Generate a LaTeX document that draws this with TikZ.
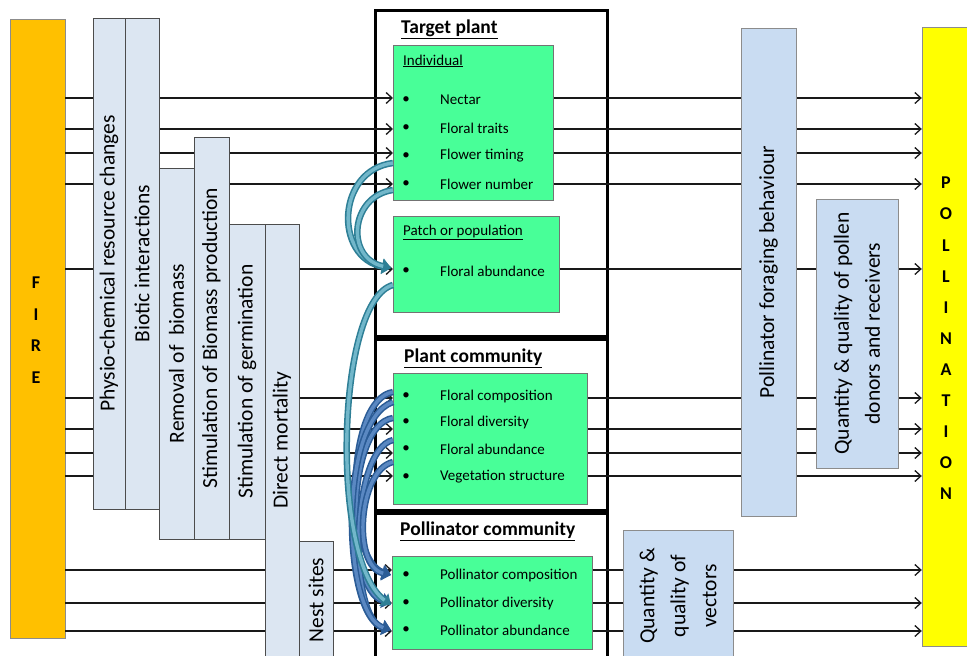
\documentclass[tikz,border=0pt]{standalone}
\usepackage{fontspec}
\setmainfont{Carlito}
\usetikzlibrary{arrows.meta}
\definecolor{fireC}{HTML}{FFC000}
\definecolor{pollC}{HTML}{FFFF00}
\definecolor{barL}{HTML}{DCE6F2}
\definecolor{barR}{HTML}{C9DCF2}
\definecolor{grn}{HTML}{48FF98}
\definecolor{tealD}{HTML}{2E7F96}
\definecolor{tealL}{HTML}{72B7CA}
\definecolor{bluD}{HTML}{2B5C96}
\definecolor{bluL}{HTML}{5A88C2}
\newcommand\bandarrow[3]{%
  \draw[#1, line width=6.5pt, -{Triangle[length=9pt,width=15pt]}] #3;
  \draw[#2, line width=3.4pt, shorten >=8pt] #3;}
\begin{document}
\begin{tikzpicture}[x=1pt,y=-1pt,
  bar/.style={draw=black!70, fill=barL, line width=0.8pt, inner sep=0pt},
  barr/.style={draw=black!45, fill=barR, line width=0.8pt, inner sep=0pt},
  vtext/.style={rotate=90, font=\fontsize{21.5}{31}\selectfont, align=center, inner sep=0pt},
  gbox/.style={draw=black!55, fill=grn, line width=0.8pt, inner sep=0pt, anchor=north west},
  outer/.style={draw=black, line width=3pt},
  item/.style={anchor=west, font=\fontsize{15}{18}\selectfont, inner sep=0pt},
  bul/.style={font=\fontsize{15}{18}\selectfont, inner sep=0pt},
  ttl/.style={anchor=west, font=\bfseries\fontsize{19.5}{22}\selectfont, inner sep=0pt},
  conn/.style={draw=black!90, line width=1.3pt, -{Straight Barb[length=6pt,width=11pt,line width=1.3pt]}},
  plain/.style={draw=black!90, line width=1.3pt}]
\useasboundingbox (0,0) rectangle (967,656);
\fill[white] (0,0) rectangle (967,656);
\clip (0,0) rectangle (967,656);

% side boxes
\node[draw=black!45, fill=fireC, inner sep=0pt, minimum width=55pt, minimum height=619pt] (fire) at (37.5,328.5) {};
\node[font=\bfseries\fontsize{18}{31.5}\selectfont, align=center, inner sep=0pt] (fireT) at (36,330) {F\\I\\R\\E};
\node[draw=black!45, fill=pollC, inner sep=0pt, minimum width=50pt, minimum height=619pt] (poll) at (947,336.5) {};
\node[font=\bfseries\fontsize{18}{31.1}\selectfont, align=center, inner sep=0pt] (pollT) at (946,338.5) {P\\O\\L\\L\\I\\N\\A\\T\\I\\O\\N};

% outer frames
\draw[outer] (375,10) rectangle (607,336);
\draw[outer] (375,339) rectangle (607,510);
\draw[outer] (375,513) rectangle (607,690);
\node[ttl] (tpT) at (401,29) {\underline{Target plant}};
\node[ttl] (pcT) at (404,358) {\underline{Plant community}};
\node[ttl] (pocT) at (400,531) {\underline{Pollinator community}};

% green boxes
\node[gbox, minimum width=160pt, minimum height=155pt] (ind) at (393,45) {};
\node[gbox, minimum width=166pt, minimum height=96pt] (patch) at (393,216) {};
\node[gbox, minimum width=194pt, minimum height=131pt] (pcomm) at (393,373) {};
\node[gbox, minimum width=200pt, minimum height=93pt] (pollc) at (392,556) {};

\node[item] (indT) at (403,61) {\underline{Individual}};
\node[item] (patchT) at (403,232) {\underline{Patch or population}};

\foreach \n/\y/\t in {i1/100/Nectar, i2/128/Floral traits, i3/156/Flower timing, i4/184/Flower number,
  i5/271/Floral abundance, i6/396/Floral composition, i7/422/Floral diversity, i8/449/Floral abundance,
  i9/477/Vegetation structure, i10/575/Pollinator composition, i11/603/Pollinator diversity, i12/630/Pollinator abundance}{
  \node[bul] (b\n) at (406,\y) {•};
  \node[item] (\n) at (440,\y) {\t};
}

% row coordinates
\foreach \n/\y in {r1/98, r2/129, r3/153, r4/184, r5/269, r6/398, r7/429, r8/453, r9/476, r10/570, r11/603, r12/631}{
  \coordinate (\n) at (0,\y);
}

% left connectors
\foreach \r/\t in {r1/ind, r2/ind, r3/ind, r4/ind, r5/patch, r6/pcomm, r7/pcomm, r8/pcomm, r9/pcomm, r10/pollc, r11/pollc, r12/pollc}{
  \draw[conn] (fire.east |- \r) -- (\t.west |- \r);
}
% right connectors
\foreach \r/\s in {r1/ind, r2/ind, r3/ind, r4/ind, r5/patch, r6/pcomm, r7/pcomm, r8/pcomm, r9/pcomm, r10/pollc, r11/pollc, r12/pollc}{
  \draw[conn] (\s.east |- \r) -- (poll.west |- \r);
}

% left bars
\node[bar, minimum width=32pt, minimum height=491pt] (physio) at (109,263.5) {};
\node[vtext] (physioT) at (physio.center) {Physio-chemical resource changes};
\node[bar, minimum width=34pt, minimum height=491pt] (biotic) at (142,263.5) {};
\node[vtext] (bioticT) at (biotic.center) {Biotic interactions};
\node[bar, minimum width=35pt, minimum height=371pt] (remov) at (176.5,353.5) {};
\node[vtext] (removT) at (remov.center) {Removal of\ \ biomass};
\node[bar, minimum width=35pt, minimum height=402pt] (stimb) at (211.5,338) {};
\node[vtext] (stimbT) at (stimb.center) {Stimulation of Biomass production};
\node[bar, minimum width=36pt, minimum height=315pt] (germ) at (247,381.5) {};
\node[vtext] (germT) at (germ.center) {Stimulation of germination};
\node[bar, minimum width=34pt, minimum height=466pt] (direct) at (282,457) {};
\node[vtext] (directT) at (282,440) {Direct mortality};
\node[bar, minimum width=34pt, minimum height=149pt] (nest) at (316,615.5) {};
\node[vtext] (nestT) at (316,600) {Nest sites};

% right bars
\node[barr, minimum width=55pt, minimum height=488pt] (forag) at (768.5,272) {};
\node[vtext] (foragT) at (forag.center) {Pollinator foraging behaviour};
\node[barr, minimum width=82pt, minimum height=269pt] (qpol) at (857,333.5) {};
\node[vtext] (qpolT) at (qpol.center) {Quantity \& quality of pollen\\donors and receivers};
\node[barr, minimum width=110pt, minimum height=160pt] (qvec) at (678,610) {};
\node[vtext] (qvecT) at (678,596) {Quantity \&\\quality of\\vectors};

% curved arrows
\coordinate (ta1) at (393,163); \coordinate (ta2) at (393,190); \coordinate (tb) at (391,268);
\coordinate (ta3) at (393,285); \coordinate (tb3) at (391,605);
\bandarrow{tealD}{tealL}{(ta1) .. controls (336,170) and (334,258) .. (tb)}
\bandarrow{tealD}{tealL}{(ta2) .. controls (350,196) and (345,258) .. (tb)}
\coordinate (ba1) at (393,392); \coordinate (ba2) at (393,418); \coordinate (ba3) at (393,440);
\coordinate (ba4) at (393,462); \coordinate (ba5) at (393,402);
\coordinate (bb1) at (391,575); \coordinate (bb2) at (391,603); \coordinate (bb3) at (391,630);
\bandarrow{bluD}{bluL}{(ba1) .. controls (345,400) and (345,560) .. (bb1)}
\bandarrow{bluD}{bluL}{(ba2) .. controls (345,425) and (345,590) .. (bb2)}
\bandarrow{bluD}{bluL}{(ba3) .. controls (350,450) and (348,618) .. (bb3)}
\bandarrow{bluD}{bluL}{(ba4) .. controls (358,470) and (352,566) .. (bb1)}
\bandarrow{bluD}{bluL}{(ba5) .. controls (338,420) and (342,615) .. (bb3)}
\bandarrow{tealD}{tealL}{(ta3) .. controls (336,300) and (330,560) .. (tb3)}
\end{tikzpicture}
\end{document}
